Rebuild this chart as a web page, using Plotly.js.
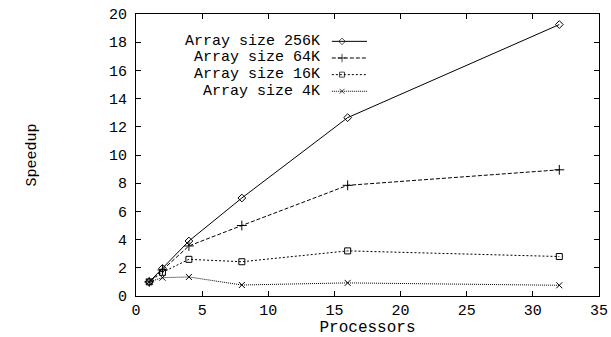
<!DOCTYPE html>
<html><head><meta charset="utf-8">
<script src="https://cdn.plot.ly/plotly-3.0.1.min.js"></script>
<style>html,body{margin:0;padding:0;background:#fff;}#chart{width:611px;height:337px;}</style>
</head><body><div id="chart"></div>
<script>
const processors = [1, 2, 4, 8, 16, 32];
const speedup256K = [1.0, 1.95, 3.9, 6.95, 12.65, 19.25];
const speedup64K  = [1.0, 1.85, 3.55, 5.0, 7.85, 8.95];
const speedup16K  = [1.0, 1.68, 2.6, 2.43, 3.2, 2.8];
const speedup4K   = [1.0, 1.3, 1.35, 0.78, 0.93, 0.76];
const seriesNames = ["Array size 256K", "Array size 64K", "Array size 16K", "Array size 4K"];
const xTicks = [0, 5, 10, 15, 20, 25, 30, 35];
const yTicks = [0, 2, 4, 6, 8, 10, 12, 14, 16, 18, 20];

const FONT = "Liberation Mono, Courier New, monospace";
const styles = [
  {dash: "solid", symbol: "diamond-open", size: 6},
  {dash: "4px,2px", symbol: "cross-thin-open", size: 7},
  {dash: "2px,2px", symbol: "square-open", size: 6},
  {dash: "1px,1px", symbol: "x-thin-open", size: 6}
];
const series = [speedup256K, speedup64K, speedup16K, speedup4K];

const traces = series.map((ys, i) => ({
  x: processors, y: ys, type: "scatter", mode: "lines+markers", name: seriesNames[i],
  line: {color: "#000", width: 1, dash: styles[i].dash},
  marker: {symbol: styles[i].symbol, size: styles[i].size, color: "#000", line: {color: "#000", width: 1}},
  showlegend: false, hoverinfo: "skip"
}));

// legend key (text right aligned, sample on the right, gnuplot style)
const rowY = [0.903, 0.844, 0.785, 0.726];
const annotations = [];
seriesNames.forEach((n, i) => {
  traces.push({
    x: [0.423, 0.445, 0.499], y: [rowY[i], rowY[i], rowY[i]], xaxis: "x2", yaxis: "y2",
    type: "scatter", mode: "lines+markers", showlegend: false, hoverinfo: "skip",
    line: {color: "#000", width: 1, dash: styles[i].dash},
    marker: {symbol: styles[i].symbol, size: [0, styles[i].size - 1, 0], color: "#000", line: {color: "#000", width: 1}}
  });
  annotations.push({
    xref: "paper", yref: "paper", x: 0.399, y: rowY[i], xanchor: "right", yanchor: "middle",
    text: n, showarrow: false, font: {family: FONT, size: 15, color: "#000"}, borderpad: 0
  });
});

const axisCommon = {
  showgrid: false, zeroline: false, showline: true, linecolor: "#000", linewidth: 1,
  mirror: "ticks", ticks: "inside", ticklen: 5, tickcolor: "#000", tickwidth: 1,
  tickfont: {family: FONT, size: 15, color: "#000"}, automargin: false
};

const layout = {
  width: 611, height: 337,
  margin: {l: 136, r: 12, t: 14, b: 41},
  paper_bgcolor: "#fff", plot_bgcolor: "#fff",
  showlegend: false,
  xaxis: Object.assign({}, axisCommon, {
    range: [0, 35], tickvals: xTicks, ticktext: xTicks.map(String),
    title: {text: "Processors", font: {family: FONT, size: 16, color: "#000"}, standoff: 0}
  }),
  yaxis: Object.assign({}, axisCommon, {
    range: [0, 20], tickvals: yTicks, ticktext: yTicks.map(String), ticklabelstandoff: 5,
    title: {text: "Speedup", font: {family: FONT, size: 15, color: "#000"}, standoff: 68}
  }),
  xaxis2: {range: [0, 1], overlaying: "x", visible: false, fixedrange: true},
  yaxis2: {range: [0, 1], overlaying: "y", visible: false, fixedrange: true},
  annotations: annotations
};

Plotly.newPlot("chart", traces, layout, {staticPlot: true, displayModeBar: false});
</script>
</body></html>
